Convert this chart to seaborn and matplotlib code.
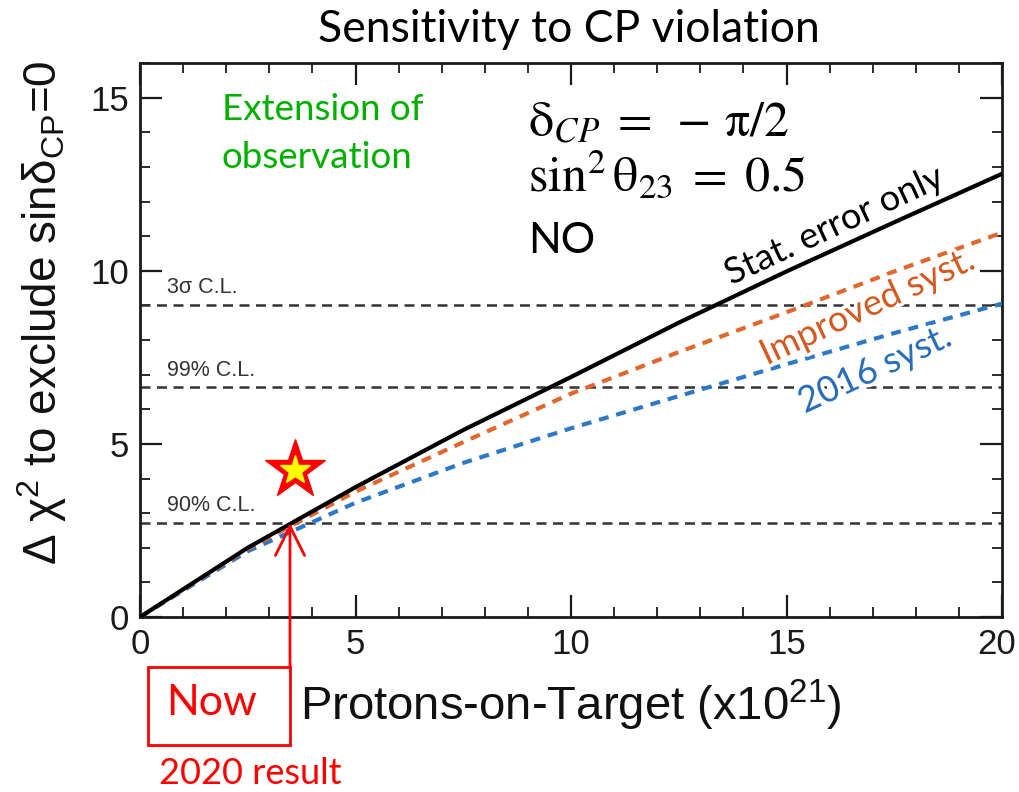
import matplotlib
matplotlib.use("Agg")
import matplotlib.pyplot as plt
import matplotlib.patheffects as pe
from matplotlib.patches import Rectangle
from matplotlib.ticker import MultipleLocator
from matplotlib.transforms import blended_transform_factory, ScaledTranslation
import pandas as pd
import seaborn as sns

# Exposure (x10^21 POT) and expected Delta chi^2 for each systematic scenario
pot = [0, 2.5, 5, 7.5, 10, 12.5, 15, 17.5, 20]
stat_only = [0, 2.0, 3.75, 5.4, 6.93, 8.5, 9.98, 11.4, 12.8]
improved_syst = [0, 1.97, 3.62, 5.05, 6.45, 7.65, 8.8, 9.98, 11.1]
syst_2016 = [0, 1.9, 3.3, 4.45, 5.45, 6.38, 7.3, 8.2, 9.05]

cases = ["Stat. error only", "Improved syst.", "2016 syst."]

# Confidence-level thresholds
cl_levels = [9.0, 6.63, 2.71]
cl_labels = ["3σ C.L.", "99% C.L.", "90% C.L."]

# Current exposure and observed point
now_pot = 3.48
now_chi2 = 2.71
star_pot = 3.6
star_chi2 = 4.24

x_ticks = [0, 5, 10, 15, 20]
y_ticks = [0, 5, 10, 15]

sns.set_theme(style="ticks")
plt.rcParams["font.family"] = ["Liberation Sans", "DejaVu Sans"]
plt.rcParams["mathtext.fontset"] = "custom"
plt.rcParams["mathtext.rm"] = "Liberation Sans"
plt.rcParams["mathtext.it"] = "Liberation Sans:italic"
plt.rcParams["mathtext.bf"] = "Liberation Sans:bold"
plt.rcParams["mathtext.sf"] = "Liberation Sans"

SANS = ["Lato", "DejaVu Sans"]
C_STAT = "#000000"
C_IMP = "#E0682F"
C_2016 = "#2E78C8"
C_IMP_TXT = "#D45A22"
C_2016_TXT = "#2A6EBB"
GREEN = "#00B000"

fig = plt.figure(figsize=(10.2, 7.92), dpi=100)
ax = fig.add_axes([140 / 1020, 1 - 617 / 792, 862 / 1020, 554 / 792])

# Confidence-level reference lines
for lvl, lab in zip(cl_levels, cl_labels):
    ln = ax.axhline(lvl, color="#333333", lw=1.8, zorder=1)
    ln.set_dashes((4, 2.6))
    ax.text(0.63, lvl + 0.2, lab, fontsize=15.5, color="#333333",
            ha="left", va="bottom", zorder=2)

df = pd.DataFrame({
    "pot": pot * 3,
    "chi2": stat_only + improved_syst + syst_2016,
    "case": [cases[0]] * len(pot) + [cases[1]] * len(pot) + [cases[2]] * len(pot),
})
sns.lineplot(data=df, x="pot", y="chi2", hue="case", style="case",
             hue_order=cases[::-1], style_order=cases[::-1],
             palette={cases[0]: C_STAT, cases[1]: C_IMP, cases[2]: C_2016},
             dashes={cases[0]: "", cases[1]: (2.4, 1.9), cases[2]: (2.4, 1.9)},
             linewidth=3, legend=False, ax=ax, zorder=3)

ax.set_xlim(0, 20)
ax.set_ylim(0, 16)
ax.xaxis.set_major_locator(MultipleLocator(5))
ax.yaxis.set_major_locator(MultipleLocator(5))
ax.xaxis.set_minor_locator(MultipleLocator(1))
ax.yaxis.set_minor_locator(MultipleLocator(1))
ax.set_xticks(x_ticks)
ax.set_yticks(y_ticks)
ax.tick_params(which="both", direction="in", top=True, right=True,
               colors="#1a1a1a", labelcolor="#1a1a1a")
ax.tick_params(which="major", length=16, width=1.6, labelsize=25, pad=8)
ax.tick_params(which="minor", length=7.5, width=1.3)
for sp in ax.spines.values():
    sp.set_linewidth(2)
    sp.set_color("#1a1a1a")

# keep the last x tick label inside the figure
last_lbl = ax.get_xticklabels()[-1]
last_lbl.set_transform(last_lbl.get_transform()
                       + ScaledTranslation(-4 / 72, 0, fig.dpi_scale_trans))

ax.set_xlabel(r"Protons-on-Target (x10$^{21}$)", fontsize=34, color="#111111")
ax.set_ylabel(r"$\mathrm{\Delta\ \chi}^{2}$ to exclude sin$\mathrm{\delta}_{\mathrm{CP}}$=0",
              fontsize=33, color="#111111")
ax.xaxis.label.set_va("center")
ax.yaxis.label.set_va("center")
ax.xaxis.set_label_coords((571 - 140) / 862, -0.159)
ax.yaxis.set_label_coords(-0.114, 0.55)

halo = [pe.withStroke(linewidth=5, foreground="white")]
ax.text(16.1, 11.3, cases[0], fontsize=26, color="black", rotation=25,
        ha="center", va="center", rotation_mode="anchor",
        family=SANS, path_effects=halo, zorder=5)
ax.text(16.87, 8.95, cases[1], fontsize=26, color=C_IMP_TXT, rotation=25,
        ha="center", va="center", rotation_mode="anchor",
        family=SANS, path_effects=halo, zorder=5)
ax.text(17.05, 7.15, cases[2], fontsize=26, color=C_2016_TXT, rotation=25,
        ha="center", va="center", rotation_mode="anchor",
        family=SANS, path_effects=halo, zorder=5)

# Oscillation parameters
ax.text(9.0, 13.9, r"$\mathrm{\delta}_{CP}\;=\;-\,\mathrm{\pi}/2$", fontsize=36,
        math_fontfamily="stix", ha="left", va="baseline", color="black")
ax.text(9.0, 12.3, r"$\sin^{2}\mathrm{\theta}_{23}\;=\;0.5$", fontsize=36,
        math_fontfamily="stix", ha="left", va="baseline", color="black")
ax.text(9.0, 10.5, "NO", fontsize=31, family=SANS, ha="left",
        va="baseline", color="black")

ax.text(1.9, 14.34, "Extension of", fontsize=26.5, family=SANS, color=GREEN,
        ha="left", va="baseline")
ax.text(1.9, 12.98, "observation", fontsize=26.5, family=SANS, color=GREEN,
        ha="left", va="baseline")

# Observed result
ax.plot([star_pot], [star_chi2], marker="*", ms=45, color="red",
        mec="red", lw=0, zorder=6, clip_on=False)
ax.plot([star_pot], [star_chi2], marker="*", ms=22, color="yellow",
        mec="yellow", lw=0, zorder=7, clip_on=False)

# Arrow from the "Now" box up to the current exposure
box_top = 125 / 792
box_bottom = 47 / 792
box_left = 148 / 1020
blend = blended_transform_factory(ax.transData, fig.transFigure)
ax.annotate("", xy=(now_pot, now_chi2), xycoords="data",
            xytext=(now_pot, box_top), textcoords=blend,
            arrowprops=dict(arrowstyle="->,head_length=0.7,head_width=0.35",
                            color="red", lw=2, shrinkA=0, shrinkB=0,
                            mutation_scale=30),
            annotation_clip=False, zorder=8)

x_disp = ax.transData.transform((now_pot, 0))[0]
box_right = fig.transFigure.inverted().transform((x_disp, 0))[0]
fig.patches.append(Rectangle((box_left, box_bottom), box_right - box_left,
                             box_top - box_bottom, transform=fig.transFigure,
                             fill=False, ec="red", lw=2))
fig.text(212 / 1020, 1 - 703 / 792, "Now", fontsize=31,
         family=SANS, color="red", ha="center", va="center")
fig.text(250 / 1020, 1 - 773 / 792, "2020 result", fontsize=26,
         family=SANS, color="red", ha="center", va="center")

fig.text(569 / 1020, 1 - 30 / 792, "Sensitivity to CP violation", fontsize=32,
         family=SANS, color="black", ha="center", va="center")

fig.savefig("out.png", dpi=100, facecolor="white")
